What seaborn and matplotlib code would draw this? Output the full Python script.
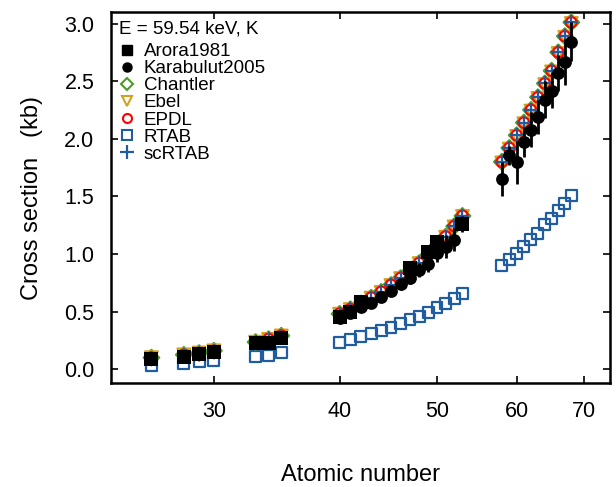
import numpy as np
import pandas as pd
import matplotlib
matplotlib.use("Agg")
import matplotlib.pyplot as plt
from matplotlib.lines import Line2D
from matplotlib.ticker import FixedLocator, NullLocator, FixedFormatter
import seaborn as sns

# ---------------- data ----------------
z_theory = [26, 28, 29, 30, 33, 34, 35,
            40, 41, 42, 43, 44, 45, 46, 47, 48, 49, 50, 51, 52, 53,
            58, 59, 60, 61, 62, 63, 64, 65, 66, 67, 68]
chantler = [0.10, 0.125, 0.14, 0.16, 0.235, 0.26, 0.29,
            0.48, 0.52, 0.57, 0.62, 0.67, 0.73, 0.79, 0.85, 0.92, 0.99, 1.07, 1.15, 1.24, 1.33,
            1.80, 1.92, 2.03, 2.14, 2.25, 2.36, 2.48, 2.59, 2.75, 2.89, 3.01]
ebel = [0.10, 0.124, 0.14, 0.159, 0.234, 0.258, 0.288,
        0.477, 0.517, 0.566, 0.616, 0.666, 0.726, 0.786, 0.846, 0.916, 0.986, 1.065, 1.145, 1.235, 1.325,
        1.79, 1.91, 2.02, 2.13, 2.24, 2.35, 2.47, 2.58, 2.74, 2.88, 3.00]
epdl = [0.10, 0.125, 0.14, 0.16, 0.236, 0.262, 0.292,
        0.482, 0.522, 0.572, 0.622, 0.672, 0.732, 0.792, 0.852, 0.922, 0.992, 1.072, 1.152, 1.242, 1.332,
        1.80, 1.92, 2.03, 2.14, 2.25, 2.36, 2.48, 2.59, 2.75, 2.89, 3.01]
scrtab = [0.10, 0.125, 0.14, 0.16, 0.235, 0.26, 0.29,
          0.48, 0.52, 0.57, 0.62, 0.67, 0.73, 0.79, 0.85, 0.92, 0.99, 1.07, 1.15, 1.24, 1.33,
          1.80, 1.92, 2.03, 2.14, 2.25, 2.36, 2.48, 2.59, 2.75, 2.89, 3.01]
rtab = [0.035, 0.05, 0.064, 0.075, 0.107, 0.122, 0.142,
        0.229, 0.258, 0.281, 0.31, 0.333, 0.362, 0.397, 0.432, 0.461, 0.49, 0.533, 0.571, 0.617, 0.658,
        0.90, 0.954, 1.006, 1.064, 1.122, 1.18, 1.252, 1.31, 1.377, 1.441, 1.507]

z_arora = [26, 28, 29, 30, 33, 34, 35, 40, 41, 42, 47, 49, 50, 53]
arora = [0.084, 0.107, 0.128, 0.151, 0.223, 0.223, 0.267, 0.45, 0.50, 0.58, 0.88, 1.02, 1.10, 1.26]
arora_err = [0.01, 0.01, 0.01, 0.01, 0.015, 0.015, 0.015, 0.03, 0.03, 0.03, 0.05, 0.05, 0.06, 0.07]

z_karab = [40, 41, 42, 43, 44, 45, 46, 47, 48, 49, 50, 51, 52,
           58, 59, 60, 61, 62, 63, 64, 65, 66, 67, 68]
karab = [0.44, 0.484, 0.536, 0.577, 0.629, 0.681, 0.736, 0.788, 0.861, 0.91, 1.01, 1.064, 1.122,
         1.649, 1.855, 1.794, 1.971, 2.078, 2.188, 2.339, 2.417, 2.571, 2.667, 2.841]
karab_err = [0.03, 0.03, 0.035, 0.04, 0.04, 0.045, 0.05, 0.05, 0.06, 0.07, 0.08, 0.10, 0.10,
             0.15, 0.08, 0.19, 0.13, 0.15, 0.15, 0.16, 0.15, 0.16, 0.20, 0.17]

x_ticks = [30, 40, 50, 60, 70]
y_ticks = [0.0, 0.5, 1.0, 1.5, 2.0, 2.5, 3.0]

# ---------------- style ----------------
sns.set_theme(style="ticks")
plt.rcParams['font.family'] = ['Liberation Sans', 'DejaVu Sans']
plt.rcParams['text.color'] = 'black'
plt.rcParams['axes.labelcolor'] = 'black'
plt.rcParams['xtick.color'] = 'black'
plt.rcParams['ytick.color'] = 'black'

fig = plt.figure(figsize=(6.16, 4.87), dpi=100)
ax = fig.add_axes([111/616, 1 - 383/487, (610 - 111)/616, (383 - 12)/487])

BLUE = '#1f5ca0'
GREEN = '#4c9a2a'
ORANGE = '#d4a020'
RED = '#ff0000'

ax.set_xscale('log')

# RTAB (open squares)
sns.scatterplot(x=z_theory, y=rtab, ax=ax, marker='s', s=62, facecolor='none',
                edgecolor=BLUE, linewidth=1.6, zorder=3, legend=False)
# theory series
sns.scatterplot(x=z_theory, y=chantler, ax=ax, marker='D', s=64, facecolor='none',
                edgecolor=GREEN, linewidth=1.5, zorder=4, legend=False)
sns.scatterplot(x=z_theory, y=ebel, ax=ax, marker='v', s=85, facecolor='none',
                edgecolor=ORANGE, linewidth=1.5, zorder=5, legend=False)
sns.scatterplot(x=z_theory, y=epdl, ax=ax, marker='o', s=58, facecolor='none',
                edgecolor=RED, linewidth=1.5, zorder=6, legend=False)
sns.scatterplot(x=z_theory, y=scrtab, ax=ax, marker='+', s=115, color=BLUE,
                linewidth=1.6, zorder=7, legend=False)

# Karabulut2005 with error bars
ax.errorbar(z_karab, karab, yerr=karab_err, fmt='none', ecolor='black',
            elinewidth=2, capsize=0, zorder=8)
sns.scatterplot(x=z_karab, y=karab, ax=ax, marker='o', s=85, color='black',
                edgecolor='black', linewidth=0, zorder=9, legend=False)
# Arora1981 with error bars
ax.errorbar(z_arora, arora, yerr=arora_err, fmt='none', ecolor='black',
            elinewidth=2, capsize=0, zorder=10)
sns.scatterplot(x=z_arora, y=arora, ax=ax, marker='s', s=95, color='black',
                edgecolor='black', linewidth=0, zorder=11, legend=False)

# axes
ax.set_xlim(23.7, 74.3)
ax.set_ylim(-0.12, 3.10)
ax.xaxis.set_major_locator(FixedLocator(x_ticks))
ax.xaxis.set_major_formatter(FixedFormatter([str(t) for t in x_ticks]))
ax.xaxis.set_minor_locator(NullLocator())
ax.yaxis.set_major_locator(FixedLocator(y_ticks))
ax.set_yticklabels([f"{t:.1f}" for t in y_ticks])
ax.tick_params(axis='both', which='major', direction='in', length=5, width=1.2,
               top=True, right=True, labelsize=15.5, colors='black')
ax.tick_params(axis='x', pad=13)
ax.tick_params(axis='y', pad=12)
for sp in ax.spines.values():
    sp.set_linewidth(1.8)
    sp.set_color('black')
    sp.set_visible(True)

ax.set_xlabel("Atomic number", fontsize=17, labelpad=30)
ax.set_ylabel("Cross section   (kb)", fontsize=17, labelpad=15)

# legend
handles = [
    Line2D([], [], ls='none', marker='s', ms=7, mfc='black', mec='black'),
    Line2D([], [], ls='none', marker='o', ms=6.5, mfc='black', mec='black'),
    Line2D([], [], ls='none', marker='D', ms=6, mfc='none', mec=GREEN, mew=1.5),
    Line2D([], [], ls='none', marker='v', ms=7.5, mfc='none', mec=ORANGE, mew=1.5),
    Line2D([], [], ls='none', marker='o', ms=6.5, mfc='none', mec=RED, mew=1.5),
    Line2D([], [], ls='none', marker='s', ms=6.5, mfc='none', mec=BLUE, mew=1.5),
    Line2D([], [], ls='none', marker='+', ms=10, color=BLUE, mew=1.6),
]
labels = ["Arora1981", "Karabulut2005", "Chantler", "Ebel", "EPDL", "RTAB", "scRTAB"]
leg = ax.legend(handles, labels, title="E = 59.54 keV, K", loc='upper left',
                frameon=False, fontsize=13.5, title_fontsize=13.5, handlelength=0.8,
                handletextpad=0.5, labelspacing=0.0, borderaxespad=0.2,
                borderpad=0.25)
leg._legend_box.align = "left"
leg._legend_box.sep = 4

fig.savefig("out.png", dpi=100)
